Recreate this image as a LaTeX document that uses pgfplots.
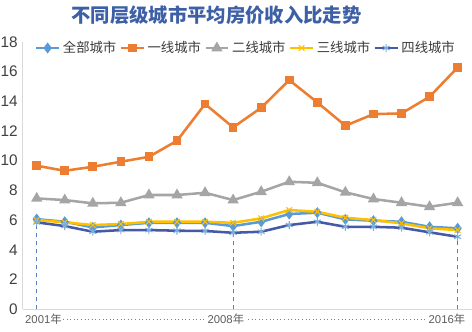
\documentclass[border=0pt]{standalone}
\usepackage{fontspec}
\setmainfont{Liberation Sans}
\newfontfamily\cjk{Noto Sans CJK SC}
\usepackage{pgfplots}
\pgfplotsset{compat=1.18}
\definecolor{cAll}{HTML}{5B9BD5}
\definecolor{cOne}{HTML}{ED7D31}
\definecolor{cTwo}{HTML}{A5A5A5}
\definecolor{cThree}{HTML}{FFC000}
\definecolor{cFour}{HTML}{4459A8}
\definecolor{labelgray}{HTML}{404040}
\definecolor{titleblue}{HTML}{3D5FA6}
\definecolor{dashblue}{HTML}{5A7DB5}
\definecolor{axgray}{HTML}{D9D9D9}
\begin{document}
\begin{tikzpicture}
\useasboundingbox (-17.0pt,-16.3pt) rectangle (337pt,232pt);
\begin{axis}[
  at={(0,0)}, anchor=south west, scale only axis,
  width=336.75pt, height=200.7pt,
  xmin=2000.5, xmax=2016.5, ymin=0, ymax=18,
  axis x line*=bottom, axis y line*=left,
  axis line style={draw=axgray, line width=0.8pt},
  ytick={0,2,...,18}, xtick=\empty,
  major tick length=0pt,
  yticklabel style={font=\fontsize{11.5}{13}\selectfont, text=labelgray, inner sep=0pt, xshift=-3.5pt},
  /pgf/number format/assume math mode=true,
  clip=false,
  every axis plot/.append style={line width=1.9pt},
  legend style={at={(rel axis cs:0.018,0.9765)}, anchor=west, draw=none, fill=none,
    font=\cjk\fontsize{10}{12}\selectfont, text=labelgray!90!black,
    /tikz/every even column/.append style={column sep=0.5pt}},
  legend columns=-1,
]
\addplot[cAll, mark=diamond*, mark size=2.6pt, mark options={solid}] coordinates {
(2001,6.07)(2002,5.89)(2003,5.51)(2004,5.67)(2005,5.82)(2006,5.82)(2007,5.82)(2008,5.60)
(2009,5.89)(2010,6.41)(2011,6.50)(2012,6.05)(2013,5.96)(2014,5.89)(2015,5.55)(2016,5.45)};
\addlegendentry{全部城市}
\addplot[cOne, mark=square*, mark size=2.3pt, mark options={solid}] coordinates {
(2001,9.66)(2002,9.32)(2003,9.59)(2004,9.93)(2005,10.26)(2006,11.34)(2007,13.81)(2008,12.24)
(2009,13.56)(2010,15.42)(2011,13.92)(2012,12.35)(2013,13.13)(2014,13.18)(2015,14.30)(2016,16.27)};
\addlegendentry{一线城市}
\addplot[cTwo, mark=triangle*, mark size=3pt, mark options={solid}] coordinates {
(2001,7.46)(2002,7.35)(2003,7.13)(2004,7.17)(2005,7.69)(2006,7.69)(2007,7.84)(2008,7.35)
(2009,7.91)(2010,8.58)(2011,8.51)(2012,7.87)(2013,7.42)(2014,7.17)(2015,6.90)(2016,7.17)};
\addlegendentry{二线城市}
\addplot[cThree, mark=x, mark size=3pt, mark options={solid, line width=0.8pt}] coordinates {
(2001,6.01)(2002,5.85)(2003,5.67)(2004,5.74)(2005,5.89)(2006,5.89)(2007,5.89)(2008,5.82)
(2009,6.12)(2010,6.68)(2011,6.56)(2012,6.16)(2013,6.01)(2014,5.78)(2015,5.45)(2016,5.33)};
\addlegendentry{三线城市}
\addplot[cFour, mark=asterisk, mark size=3pt, mark options={solid, line width=0.8pt, draw=cAll!80!white}] coordinates {
(2001,5.85)(2002,5.60)(2003,5.22)(2004,5.33)(2005,5.33)(2006,5.29)(2007,5.27)(2008,5.15)
(2009,5.22)(2010,5.67)(2011,5.89)(2012,5.55)(2013,5.55)(2014,5.49)(2015,5.18)(2016,4.88)};
\addlegendentry{四线城市}
\addplot[dashblue, dashed, line width=0.8pt, forget plot] coordinates {(2001,0)(2001,5.85)};
\addplot[dashblue, dashed, line width=0.8pt, forget plot] coordinates {(2008,0)(2008,5.15)};
\addplot[dashblue, dashed, line width=0.8pt, forget plot] coordinates {(2016,0)(2016,4.88)};
\draw[gray, dotted, line width=0.7pt] (axis cs:2001.94,-0.65) -- (axis cs:2006.99,-0.65);
\draw[gray, dotted, line width=0.7pt] (axis cs:2008.53,-0.65) -- (axis cs:2014.87,-0.65);
\node[font=\fontsize{8.5}{10}\selectfont, text=labelgray!85, inner sep=0pt] at (axis cs:2001.24,-0.65) {2001{\cjk 年}};
\node[font=\fontsize{8.5}{10}\selectfont, text=labelgray!85, inner sep=0pt] at (axis cs:2007.74,-0.65) {2008{\cjk 年}};
\node[font=\fontsize{8.5}{10}\selectfont, text=labelgray!85, inner sep=0pt] at (axis cs:2015.62,-0.65) {2016{\cjk 年}};
\node[font=\cjk\bfseries\fontsize{14.5}{16}\selectfont, text=titleblue, inner sep=0pt] at (rel axis cs:0.432,1.0998) {不同层级城市平均房价收入比走势};
\end{axis}
\end{tikzpicture}
\end{document}
